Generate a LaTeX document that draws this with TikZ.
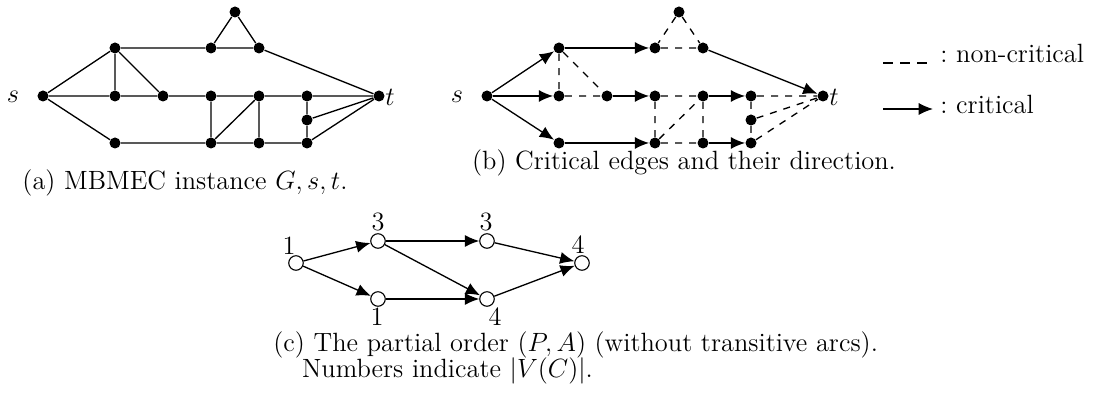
\documentclass[tikz,border=0pt]{standalone}
\usetikzlibrary{arrows.meta}
\begin{document}
\begin{tikzpicture}[x=0.4545pt,y=-0.4545pt,
  dot/.style={circle,fill,inner sep=0pt,minimum size=5pt},
  odot/.style={circle,draw,fill=white,inner sep=0pt,minimum size=6.6pt,line width=0.5pt},
  edge/.style={line width=0.6pt},
  crit/.style={edge,-{Latex[length=6.5pt,width=5.5pt]}},
  ncrit/.style={edge,dash pattern=on 3.2pt off 3.2pt},
  arc/.style={line width=0.6pt,-{Latex[length=6.5pt,width=5.5pt]}},
  lab/.style={font=\large},
  num/.style={font=\large,inner sep=1pt}]
\useasboundingbox (0,0) rectangle (1102,405);

% nodes for panels (a) and (b)
\foreach \p/\dx in {a/0,b/444}{
  \node[dot] (\p s) at (43+\dx,96) {};
  \node[dot] (\p t) at (379+\dx,96) {};
  \node[dot] (\p1) at (115+\dx,48) {};
  \node[dot] (\p2) at (211+\dx,48) {};
  \node[dot] (\p3) at (259+\dx,48) {};
  \node[dot] (\p4) at (235+\dx,12) {};
  \node[dot] (\p5) at (115+\dx,96) {};
  \node[dot] (\p6) at (163+\dx,96) {};
  \node[dot] (\p7) at (211+\dx,96) {};
  \node[dot] (\p8) at (259+\dx,96) {};
  \node[dot] (\p9) at (307+\dx,96) {};
  \node[dot] (\p10) at (307+\dx,120) {};
  \node[dot] (\p11) at (115+\dx,143) {};
  \node[dot] (\p12) at (211+\dx,143) {};
  \node[dot] (\p13) at (259+\dx,143) {};
  \node[dot] (\p14) at (307+\dx,143) {};
  \node[lab] (\p slab) at (13+\dx,97) {$s$};
  \node[lab] (\p tlab) at (390+\dx,97) {$t$};
}

% panel (a) edges
\draw[edge] (as) -- (a1) (as) -- (a5) (as) -- (a11)
  (a1) -- (a2) -- (a3) (a2) -- (a4) -- (a3) (a3) -- (at)
  (a1) -- (a5) (a1) -- (a6)
  (a5) -- (a6) -- (a7) -- (a8) -- (a9) -- (at)
  (a7) -- (a12) (a12) -- (a8) (a8) -- (a13)
  (a9) -- (a10) -- (a14) (a10) -- (at) (a14) -- (at)
  (a11) -- (a12) -- (a13) -- (a14);

% panel (b) edges
\draw[crit] (bs) -- (b1);
\draw[crit] (bs) -- (b5);
\draw[crit] (bs) -- (b11);
\draw[crit] (b1) -- (b2);
\draw[crit] (b3) -- (bt);
\draw[crit] (b6) -- (b7);
\draw[crit] (b8) -- (b9);
\draw[crit] (b11) -- (b12);
\draw[crit] (b13) -- (b14);
\draw[ncrit] (b2) -- (b3) (b4) -- (b2) (b4) -- (b3)
  (b1) -- (b5) (b1) -- (b6)
  (b5) -- (b6) (b7) -- (b8) (b9) -- (bt)
  (b7) -- (b12) (b12) -- (b8) (b8) -- (b13)
  (b9) -- (b10) (b10) -- (b14) (b10) -- (bt) (b14) -- (bt)
  (b12) -- (b13);

% legend
\coordinate (l1a) at (883,63);
\coordinate (l1b) at (933,63);
\draw[line width=0.5pt,dash pattern=on 4.6pt off 3.2pt] (l1a) -- (l1b);
\node[anchor=base west,font=\large,inner sep=0pt] (leg1) at (940,63) {:\ non-critical};
\coordinate (l2a) at (883,109);
\coordinate (l2b) at (933,109);
\draw[crit] (l2a) -- (l2b);
\node[anchor=base west,font=\large,inner sep=0pt] (leg2) at (940,114) {:\ critical};

% captions
\node[font=\large] (capa) at (185,183) {(a) MBMEC instance $G,s,t$.};
\node[font=\large] (capb) at (684,163) {(b) Critical edges and their direction.};

% panel (c)
\node[odot] (c1) at (296,263) {};
\node[odot] (c2) at (378,241) {};
\node[odot] (c3) at (378,299) {};
\node[odot] (c4) at (487,241) {};
\node[odot] (c5) at (487,299) {};
\node[odot] (c6) at (582,263) {};
\draw[arc] (c1) -- (c2);
\draw[arc] (c1) -- (c3);
\draw[arc] (c2) -- (c4);
\draw[arc] (c2) -- (c5);
\draw[arc] (c3) -- (c5);
\draw[arc] (c4) -- (c6);
\draw[arc] (c5) -- (c6);
\node[num] (n1) at (289,246) {1};
\node[num] (n2) at (378,222) {3};
\node[num] (n4) at (486,222) {3};
\node[num] (n6) at (578,245) {4};
\node[num] (n3) at (377,317) {1};
\node[num] (n5) at (495,317) {4};

\node[font=\large,anchor=base west,inner sep=0pt,align=left] (capc) at (273,378)
  {(c) The partial order $(P,A)$ (without transitive arcs).\\[-1.8pt]
   \hspace*{13pt}Numbers indicate $|V(C)|$.};
\end{tikzpicture}
\end{document}
